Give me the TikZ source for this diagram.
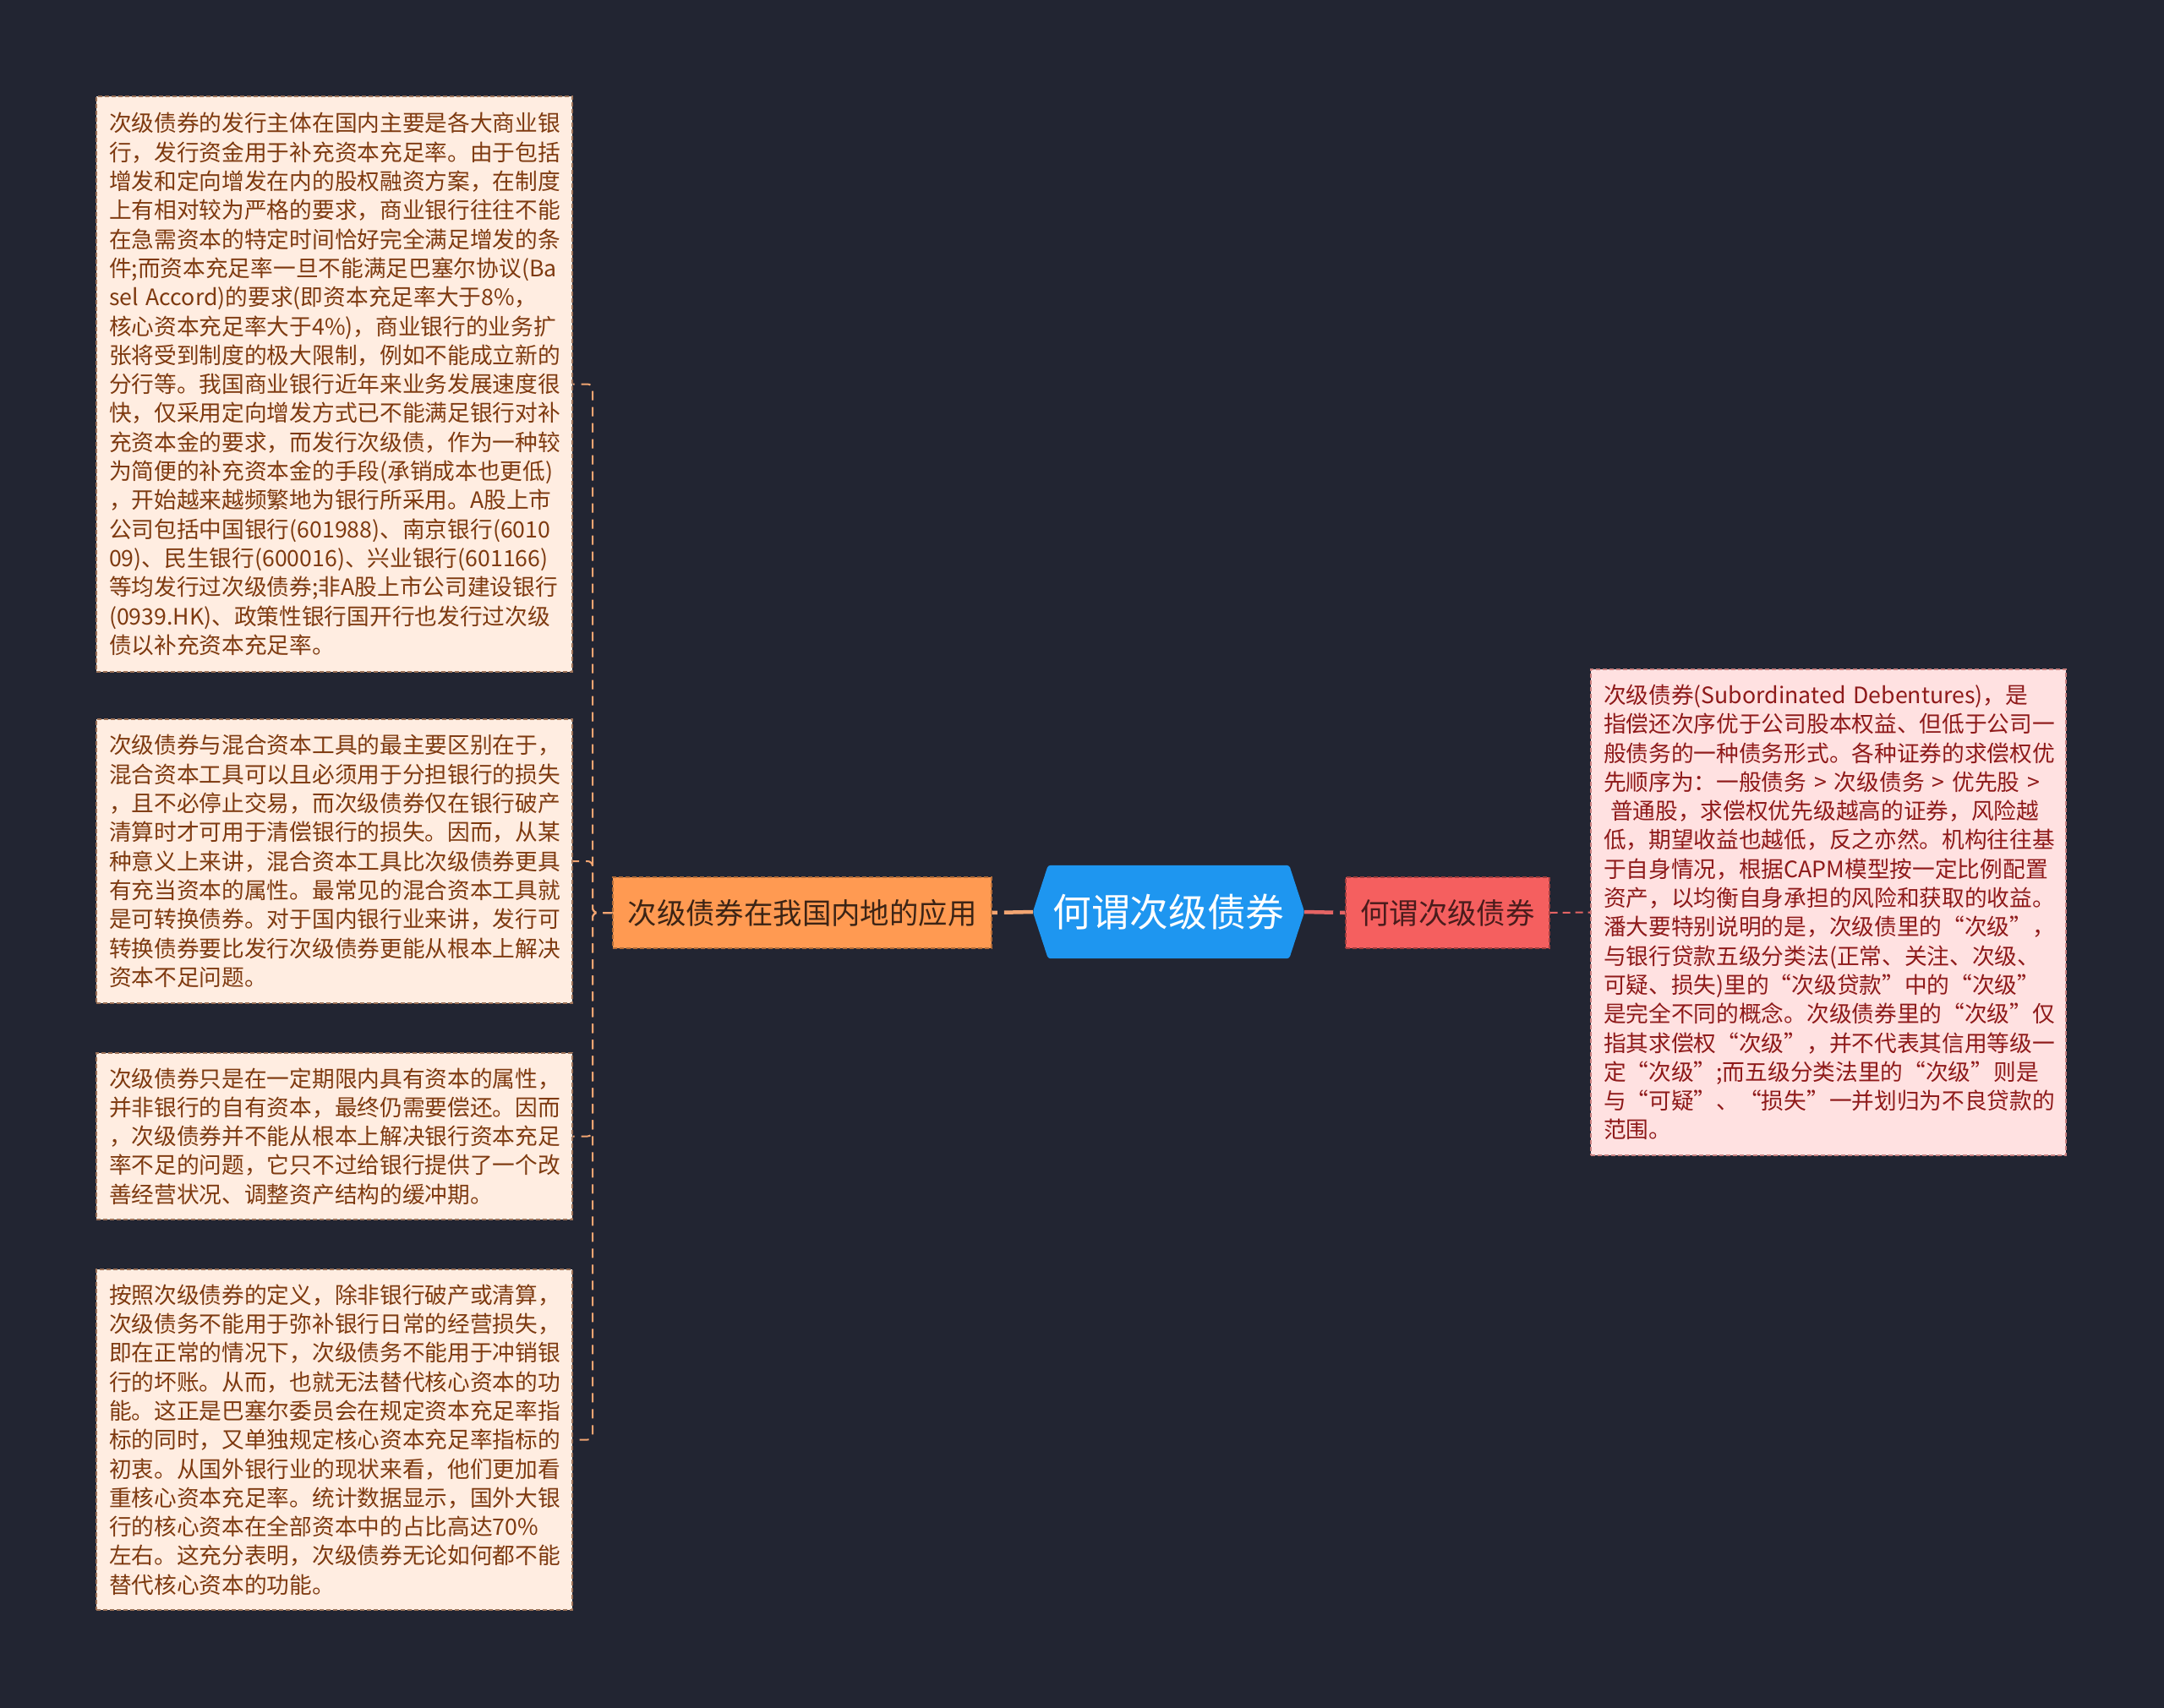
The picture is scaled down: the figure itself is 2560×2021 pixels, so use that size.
\documentclass[tikz,border=0pt]{standalone}
\usepackage{fontspec}
\setmainfont{Noto Sans CJK SC}
\definecolor{bg}{HTML}{222532}
\definecolor{lfill}{HTML}{FFEDE1}
\definecolor{ltext}{HTML}{7E3A10}
\definecolor{lbord}{HTML}{9C7258}
\definecolor{rfill}{HTML}{FFE1E1}
\definecolor{rtext}{HTML}{8E1A1A}
\definecolor{rbord}{HTML}{C98080}
\definecolor{ofill}{HTML}{FF9A52}
\definecolor{otext}{HTML}{3C2415}
\definecolor{redfill}{HTML}{F55F5F}
\definecolor{redtext}{HTML}{4A1C1C}
\definecolor{hexblue}{HTML}{1E96F0}
\definecolor{oline}{HTML}{F2A572}
\definecolor{rline}{HTML}{E46464}
\begin{document}
\begin{tikzpicture}[x=1pt,y=-1pt,
  leafbox/.style={rectangle, fill=lfill, draw=lbord, line width=1.3pt, dash pattern=on 5pt off 3pt,
    text=ltext, font=\fontsize{26.7}{34.3}\selectfont, align=left, text width=533pt,
    inner xsep=15pt, inner ysep=0pt, anchor=center},
  rightbox/.style={rectangle, fill=rfill, draw=rbord, line width=1.3pt, dash pattern=on 5pt off 3pt,
    text=rtext, font=\fontsize{26.7}{34.3}\selectfont, align=left, text width=532pt,
    inner xsep=15pt, inner ysep=0pt, anchor=center},
  subnode/.style={rectangle, line width=1.3pt, dash pattern=on 5pt off 3pt,
    font=\fontsize{34.4}{40}\selectfont, inner sep=0pt, minimum height=84pt},
  ldash/.style={draw=oline, line width=2pt, dash pattern=on 11pt off 8pt, rounded corners=6pt},
  rdash/.style={draw=rline, line width=2pt, dash pattern=on 9pt off 6pt},
  thickline/.style={line width=4.5pt, dash pattern=on 34pt off 8pt}
]
\useasboundingbox (0,0) rectangle (2560,2021);
\fill[bg] (0,0) rectangle (2560,2021);

% central hexagon
\node (c) at (1382.5,1079) [minimum width=321pt, minimum height=110pt, inner sep=0pt] {};
\fill[hexblue, rounded corners=3pt] ([xshift=18pt]c.north west) -- ([xshift=-18pt]c.north east) -- (c.east)
  -- ([xshift=-18pt]c.south east) -- ([xshift=18pt]c.south west) -- (c.west) -- cycle;
\node (ct) at (c.center) [text=white, font=\fontsize{45.7}{52}\selectfont, inner sep=0pt] {何谓次级债券};

% first-level nodes
\node (o) at (949,1080) [subnode, fill=ofill, draw=ofill!70!black, text=otext, minimum width=448pt] {次级债券在我国内地的应用};
\node (r) at (1712.5,1080) [subnode, fill=redfill, draw=redfill!65!black, text=redtext, minimum width=241pt] {何谓次级债券};

% left leaves
\node (b1) at (395.5,454.5) [leafbox, minimum height=681pt] {次级债券的发行主体在国内主要是各大商业银\\
行，发行资金用于补充资本充足率。由于包括\\
增发和定向增发在内的股权融资方案，在制度\\
上有相对较为严格的要求，商业银行往往不能\\
在急需资本的特定时间恰好完全满足增发的条\\
件;而资本充足率一旦不能满足巴塞尔协议(Ba\\
sel~Accord)的要求(即资本充足率大于8\%，\\
核心资本充足率大于4\%)，商业银行的业务扩\\
张将受到制度的极大限制，例如不能成立新的\\
分行等。我国商业银行近年来业务发展速度很\\
快，仅采用定向增发方式已不能满足银行对补\\
充资本金的要求，而发行次级债，作为一种较\\
为简便的补充资本金的手段(承销成本也更低)\\
，开始越来越频繁地为银行所采用。A股上市\\
公司包括中国银行(601988)、南京银行(6010\\
09)、民生银行(600016)、兴业银行(601166)\\
等均发行过次级债券;非A股上市公司建设银行\\
(0939.HK)、政策性银行国开行也发行过次级\\
债以补充资本充足率。};

\node (b2) at (395.5,1019) [leafbox, minimum height=336pt] {次级债券与混合资本工具的最主要区别在于，\\
混合资本工具可以且必须用于分担银行的损失\\
，且不必停止交易，而次级债券仅在银行破产\\
清算时才可用于清偿银行的损失。因而，从某\\
种意义上来讲，混合资本工具比次级债券更具\\
有充当资本的属性。最常见的混合资本工具就\\
是可转换债券。对于国内银行业来讲，发行可\\
转换债券要比发行次级债券更能从根本上解决\\
资本不足问题。};

\node (b3) at (395.5,1344.5) [leafbox, minimum height=197pt] {次级债券只是在一定期限内具有资本的属性，\\
并非银行的自有资本，最终仍需要偿还。因而\\
，次级债券并不能从根本上解决银行资本充足\\
率不足的问题，它只不过给银行提供了一个改\\
善经营状况、调整资产结构的缓冲期。};

\node (b4) at (395.5,1703.5) [leafbox, minimum height=403pt] {按照次级债券的定义，除非银行破产或清算，\\
次级债务不能用于弥补银行日常的经营损失，\\
即在正常的情况下，次级债务不能用于冲销银\\
行的坏账。从而，也就无法替代核心资本的功\\
能。这正是巴塞尔委员会在规定资本充足率指\\
标的同时，又单独规定核心资本充足率指标的\\
初衷。从国外银行业的现状来看，他们更加看\\
重核心资本充足率。统计数据显示，国外大银\\
行的核心资本在全部资本中的占比高达70\%\\
左右。这充分表明，次级债券无论如何都不能\\
替代核心资本的功能。};

% right leaf
\node (rb) at (2163,1079.5) [rightbox, minimum height=575pt] {次级债券(Subordinated~Debentures)，是\\
指偿还次序优于公司股本权益、但低于公司一\\
般债务的一种债务形式。各种证券的求偿权优\\
先顺序为：一般债务~>~次级债务~>~优先股~>\\
\hspace*{0.3em}普通股，求偿权优先级越高的证券，风险越\\
低，期望收益也越低，反之亦然。机构往往基\\
于自身情况，根据CAPM模型按一定比例配置\\
资产，以均衡自身承担的风险和获取的收益。\\
潘大要特别说明的是，次级债里的“次级”，\\
与银行贷款五级分类法(正常、关注、次级、\\
可疑、损失)里的“次级贷款”中的“次级”\\
是完全不同的概念。次级债券里的“次级”仅\\
指其求偿权“次级”，并不代表其信用等级一\\
定“次级”;而五级分类法里的“次级”则是\\
与“可疑”、“损失”一并划归为不良贷款的\\
范围。};

% connectors
\draw[thickline, draw=oline] (c.west) -- (o.east);
\draw[thickline, draw=rline] (c.east) -- (r.west);
\draw[rdash] (r.east) -- (rb.west);
\coordinate (bus) at (701,1080);
\draw[ldash] (o.west) -- (bus) |- (b1.east);
\draw[ldash] (o.west) -- (bus) |- (b2.east);
\draw[ldash] (o.west) -- (bus) |- (b3.east);
\draw[ldash] (o.west) -- (bus) |- (b4.east);
\end{tikzpicture}
\end{document}
